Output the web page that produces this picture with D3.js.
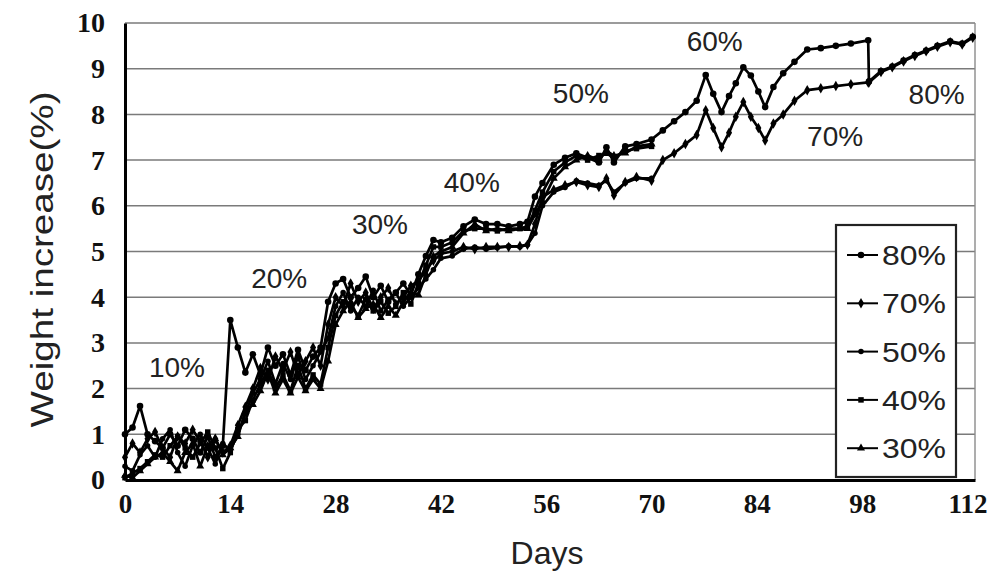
<!DOCTYPE html>
<html>
<head>
<meta charset="utf-8">
<script src="https://cdn.jsdelivr.net/npm/d3@7"></script>
<style>
  html, body { margin: 0; padding: 0; background: #fff; }
  svg { display: block; }
</style>
</head>
<body>
<svg id="chart" width="1000" height="582"></svg>
<script>
// ---------------- DATA ----------------
const days = [
  0,1,2,3,4,5,6,7,8,9,10,11,12,13,14,15,16,17,18,19,20,21,22,23,24,25,26,27,28,29,30,31,32,33,34,35,36,37,38,39,40,41,42,
  43.5,45,46.5,48,49.5,51,52.5,53.5,54.5,55.5,57,58.5,60,61.5,63,64,65,66.5,68,70,
  71.5,73,74.5,76,77.2,78.2,79.3,80.3,81.2,82.2,83.2,84.2,85.1,86.2,87.5,89,90.7,92.5,94.5,96.5,
  98.8,98.9,100.5,102,103.5,105,106.5,108,109.7,111.3,112.7
];
const s80 = [
  1.0,1.15,1.62,1.0,0.85,0.7,1.0,0.75,1.1,0.9,0.6,0.95,0.5,0.75,3.5,2.9,2.35,2.75,2.3,2.9,2.5,2.75,2.3,2.85,2.4,2.7,2.9,3.9,4.3,4.4,4.0,4.2,4.45,4.0,4.25,3.9,4.1,4.3,4.05,4.5,4.9,5.25,5.2,
  5.3,5.55,5.7,5.6,5.6,5.55,5.6,5.65,6.2,6.5,6.9,7.05,7.15,7.05,6.95,7.28,6.95,7.3,7.35,7.45,
  7.65,7.85,8.05,8.3,8.86,8.45,8.05,8.4,8.68,9.03,8.85,8.5,8.16,8.6,8.9,9.15,9.42,9.45,9.5,9.55,
  9.62,8.72,8.95,9.05,9.18,9.3,9.4,9.5,9.6,9.55,9.7
];
const s70 = [
  0.5,0.8,0.6,0.9,1.05,0.7,0.5,0.95,0.8,1.1,0.85,0.5,0.9,0.6,0.75,1.2,1.6,2.0,2.45,2.2,2.7,2.4,2.8,2.3,2.6,2.9,2.5,3.4,4.0,3.8,4.3,3.9,4.1,3.75,4.0,4.2,3.85,4.0,4.25,4.35,4.6,4.8,4.95,
  5.0,5.1,5.05,5.1,5.1,5.1,5.12,5.15,5.6,6.19,6.35,6.45,6.52,6.45,6.41,6.6,6.23,6.52,6.63,6.55,
  7.0,7.15,7.35,7.55,8.09,7.7,7.28,7.6,7.95,8.27,7.95,7.7,7.43,7.8,8.0,8.3,8.53,8.57,8.62,8.66,
  8.7,8.7,8.93,9.03,9.16,9.28,9.38,9.48,9.58,9.53,9.68
];
const s50 = [
  0.3,0.2,0.55,0.75,0.5,0.9,1.1,0.6,0.3,0.75,1.0,0.7,0.35,0.8,0.65,1.0,1.45,1.9,2.2,2.6,2.1,2.55,2.2,2.7,2.2,2.5,2.8,3.1,3.8,4.1,3.7,4.0,3.8,4.15,3.7,3.95,4.1,3.8,4.0,4.2,4.4,4.6,4.85,
  4.9,5.05,5.1,5.05,5.08,5.12,5.1,5.15,5.4,6.0,6.3,6.4,6.55,6.5,6.45,6.55,6.3,6.5,6.6,6.6
];
const s40 = [
  0.05,0.15,0.25,0.4,0.55,0.5,0.75,0.95,0.7,0.5,0.8,1.05,0.7,0.25,0.6,1.1,1.3,1.75,2.1,2.4,2.0,2.3,1.95,2.5,2.0,2.3,2.1,2.9,3.6,3.9,3.8,3.6,3.95,3.7,3.9,3.65,3.8,4.1,3.85,4.3,4.7,5.1,5.1,
  5.2,5.45,5.5,5.5,5.45,5.5,5.5,5.55,5.9,6.3,6.75,6.95,7.1,7.0,7.1,7.15,7.05,7.2,7.25,7.3
];
const s30 = [
  0.1,0.05,0.2,0.35,0.5,0.6,0.4,0.2,0.6,0.8,0.3,0.75,0.9,0.55,0.7,0.95,1.5,1.65,1.95,2.35,1.9,2.2,1.9,2.25,1.95,2.2,2.0,2.6,3.4,3.7,3.9,3.55,3.75,3.85,3.55,3.8,3.6,3.9,4.1,4.05,4.5,4.9,5.0,
  5.1,5.4,5.6,5.45,5.5,5.45,5.5,5.5,5.8,6.1,6.6,6.85,7.0,7.1,7.0,7.2,7.1,7.15,7.3,7.35
];
const seriesNames = ["80%", "70%", "50%", "40%", "30%"];
const xTicks = [0, 14, 28, 42, 56, 70, 84, 98, 112];
const yTicks = [0, 1, 2, 3, 4, 5, 6, 7, 8, 9, 10];
// humidity-step annotations (text, day, value)
const stepLabels = ["10%", "20%", "30%", "40%", "50%", "60%", "70%", "80%"];
const stepDays   = [6.9, 20.5, 33.9, 46.1, 60.6, 78.4, 94.4, 107.9];
const stepValues = [2.47, 4.42, 5.6, 6.52, 8.48, 9.6, 7.54, 8.44];
const xTitle = "Days";
const yTitle = "Weight increase(%)";

// ---------------- CHART ----------------
const W = 1000, H = 582;
const margin = { left: 125, right: 25, top: 23, bottom: 102 };
const svg = d3.select("#chart");

const x = d3.scaleLinear().domain([0, 113]).range([margin.left, W - margin.right]);
const y = d3.scaleLinear().domain([0, 10]).range([H - margin.bottom, margin.top]);

const seriesVals = [s80, s70, s50, s40, s30];
const symbols = [d3.symbolCircle, d3.symbolDiamond, d3.symbolCircle, d3.symbolSquare, d3.symbolTriangle];
const symSizes = [34, 32, 24, 30, 28];

// grid lines
svg.append("g").selectAll("line").data(yTicks.filter(d => d > 0)).join("line")
  .attr("x1", x(0)).attr("x2", x(113))
  .attr("y1", d => y(d)).attr("y2", d => y(d))
  .attr("stroke", "#7a7a7a").attr("stroke-width", 1.5);

// right frame
svg.append("line")
  .attr("x1", x(113)).attr("x2", x(113))
  .attr("y1", y(10)).attr("y2", y(0))
  .attr("stroke", "#8a8a8a").attr("stroke-width", 1.4);

// axes
const xAxis = svg.append("g").attr("transform", `translate(0,${y(0)})`)
  .call(d3.axisBottom(x).tickValues(xTicks).tickSize(0).tickPadding(14).tickFormat(d3.format("d")));
xAxis.select(".domain").attr("stroke", "#000").attr("stroke-width", 3);
xAxis.selectAll("text").attr("font-family", "'Liberation Serif', 'Times New Roman', serif")
  .attr("font-size", 27).attr("font-weight", "bold").attr("fill", "#111");

const yAxis = svg.append("g").attr("transform", `translate(${x(0)},0)`)
  .call(d3.axisLeft(y).tickValues(yTicks).tickSize(0).tickPadding(20).tickFormat(d3.format("d")));
yAxis.select(".domain").attr("stroke", "#000").attr("stroke-width", 3);
yAxis.selectAll("text").attr("font-family", "'Liberation Serif', 'Times New Roman', serif")
  .attr("font-size", 28).attr("font-weight", "bold").attr("fill", "#111");

// series
const line = d3.line().x(d => x(d[0])).y(d => y(d[1]));
seriesVals.forEach((vals, i) => {
  const pts = vals.map((v, j) => [days[j], v]);
  const g = svg.append("g");
  g.append("path").datum(pts)
    .attr("d", line).attr("fill", "none")
    .attr("stroke", "#000").attr("stroke-width", 2.7).attr("stroke-linejoin", "round");
  g.selectAll("path.m").data(pts).join("path").attr("class", "m")
    .attr("transform", d => `translate(${x(d[0])},${y(d[1])})`)
    .attr("d", d3.symbol().type(symbols[i]).size(symSizes[i]))
    .attr("fill", "#000");
});

// step annotations
svg.append("g").selectAll("text").data(stepLabels).join("text")
  .attr("x", (d, i) => x(stepDays[i]))
  .attr("y", (d, i) => y(stepValues[i]))
  .attr("dy", "0.36em")
  .attr("text-anchor", "middle")
  .attr("font-family", "'Liberation Sans', Arial, sans-serif")
  .attr("font-size", 28).attr("fill", "#222")
  .text(d => d);

// legend
const lg = svg.append("g").attr("transform", "translate(836,225)");
lg.append("rect").attr("width", 120).attr("height", 252)
  .attr("fill", "#fff").attr("stroke", "#222").attr("stroke-width", 2.2);
seriesNames.forEach((name, i) => {
  const cy = 30 + i * 48.3;
  lg.append("line").attr("x1", 11).attr("x2", 42).attr("y1", cy).attr("y2", cy)
    .attr("stroke", "#000").attr("stroke-width", 2);
  lg.append("path").attr("transform", `translate(25,${cy})`)
    .attr("d", d3.symbol().type(symbols[i]).size(symSizes[i])).attr("fill", "#000");
  lg.append("text").attr("x", 46).attr("y", cy).attr("dy", "0.36em")
    .attr("font-family", "'Liberation Sans', Arial, sans-serif")
    .attr("font-size", 28).attr("fill", "#222")
    .attr("textLength", 64).attr("lengthAdjust", "spacingAndGlyphs")
    .text(name);
});

// axis titles
svg.append("text")
  .attr("x", (x(0) + x(113)) / 2 - 3).attr("y", 564)
  .attr("text-anchor", "middle")
  .attr("font-family", "'Liberation Sans', Arial, sans-serif")
  .attr("font-size", 32).attr("fill", "#222")
  .text(xTitle);

svg.append("text")
  .attr("transform", `translate(53,${(y(0) + y(10)) / 2 + 8}) rotate(-90)`)
  .attr("text-anchor", "middle")
  .attr("font-family", "'Liberation Sans', Arial, sans-serif")
  .attr("font-size", 32).attr("fill", "#222")
  .attr("textLength", 336).attr("lengthAdjust", "spacingAndGlyphs")
  .text(yTitle);
</script>
</body>
</html>
